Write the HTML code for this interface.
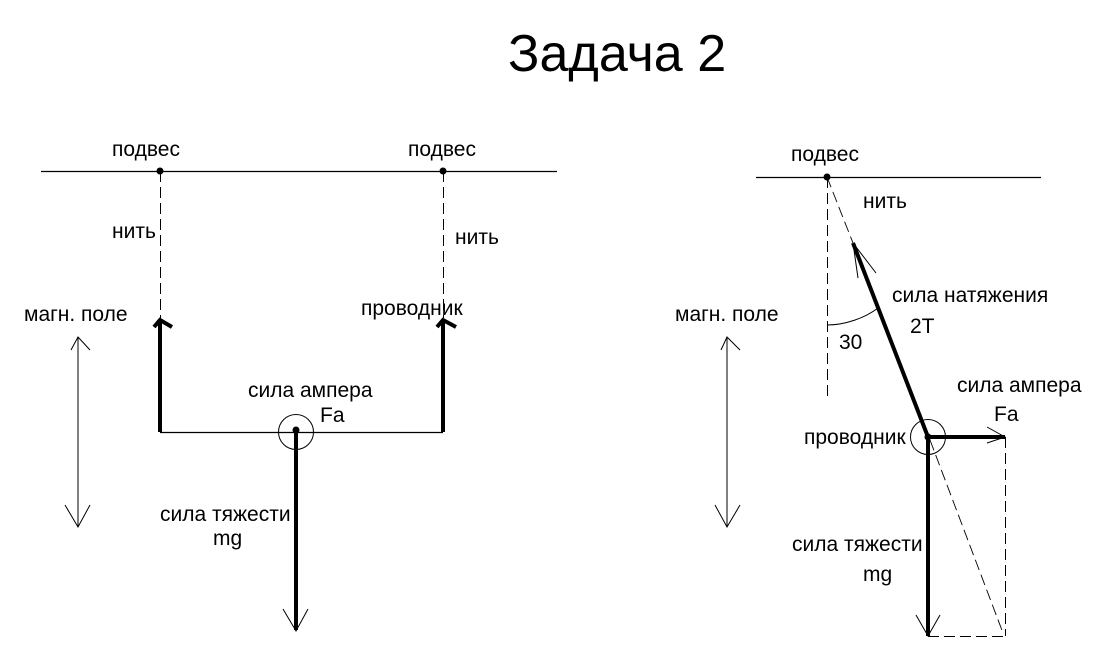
<!DOCTYPE html>
<html><head><meta charset="utf-8"><style>
html,body{margin:0;padding:0;background:#fff;width:1105px;height:659px;overflow:hidden}
svg{display:block}
text{font-family:"Liberation Sans",sans-serif;font-size:21px;fill:#000}
</style></head><body>
<svg width="1105" height="659" viewBox="0 0 1105 659" xmlns="http://www.w3.org/2000/svg">
<rect width="1105" height="659" fill="#fff"/>
<text x="508" y="71" style="font-size:52.1px">Задача 2</text>
<g fill="none" stroke="#000" stroke-width="1.3">
<path d="M41 171.5H557M756 177.5H1041"/>
<path d="M160 432.5H443"/>
<circle cx="296" cy="432" r="17.5" stroke-width="1"/>
<circle cx="928" cy="437" r="17.5" stroke-width="1"/>
<path d="M78 337V527M71 350L78 337L90 350M65 505L78 527L90 505" stroke-width="1"/>
<path d="M727 337V527M721 350L727 337L740 350M715 505L727 527L740 505" stroke-width="1"/>
<g stroke-dasharray="11 5" stroke-width="1">
<path d="M160.5 171V318M443.5 171V318M827.5 177V396M1005.5 437V636M928 636.5H1005"/>
<path d="M827 177L853 243M930 440L1003 633" stroke-width="0.9"/>
</g>
<path d="M853 243L858 278M853 243L876 273M283 609L296 631L308 609M916 615L928 636L940 615M987 427L1005 437L987 443" stroke-width="1"/>
<path d="M827 325C845 325 865 318 878 308" stroke-width="1"/>
<g stroke-width="4">
<path d="M160 432V320M443 432V320M296 432V630M853 243L928 437M928 437H1005M928 437V636"/>
<path d="M154 327L160 320L172 327M437 327L443 320L456 327"/>
</g>
</g>
<g fill="#000">
<circle cx="160" cy="171" r="3.5"/><circle cx="443" cy="171" r="3.5"/><circle cx="827" cy="177" r="3.5"/><circle cx="296" cy="430" r="3.5"/><circle cx="928" cy="437" r="3.5"/>
</g>
<text x="112" y="156">подвес</text>
<text x="408" y="156">подвес</text>
<text x="791" y="161">подвес</text>
<text x="112" y="238">нить</text>
<text x="455" y="244">нить</text>
<text x="863" y="208">нить</text>
<text x="24" y="321">магн. поле</text>
<text x="675" y="321">магн. поле</text>
<text x="361" y="315">проводник</text>
<text x="804" y="444">проводник</text>
<text x="248" y="397">сила ампера</text>
<text x="320" y="422">Fa</text>
<text x="957" y="392">сила ампера</text>
<text x="994" y="421">Fa</text>
<text x="160" y="521">сила тяжести</text>
<text x="213" y="545">mg</text>
<text x="792" y="551">сила тяжести</text>
<text x="863" y="581">mg</text>
<text x="892" y="302">сила натяжения</text>
<text x="910" y="333">2T</text>
<text x="839" y="349">30</text>
</svg>
</body></html>
